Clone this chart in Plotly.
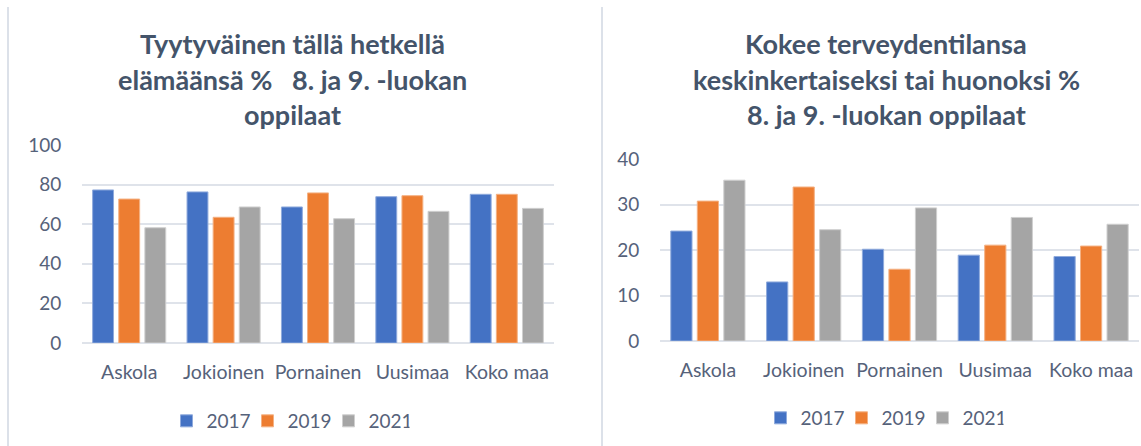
import plotly.graph_objects as go

categories = ["Askola", "Jokioinen", "Pornainen", "Uusimaa", "Koko maa"]
years = ["2017", "2019", "2021"]

# Left chart: Tyytyväinen tällä hetkellä elämäänsä %
left_2017 = [77.3, 76.3, 68.7, 73.9, 75.1]
left_2019 = [72.7, 63.5, 75.8, 74.4, 75.1]
left_2021 = [58.2, 68.7, 62.8, 66.5, 68.0]

# Right chart: Kokee terveydentilansa keskinkertaiseksi tai huonoksi %
right_2017 = [24.2, 13.0, 20.2, 18.9, 18.6]
right_2019 = [30.8, 33.9, 15.8, 21.1, 20.9]
right_2021 = [35.4, 24.5, 29.3, 27.2, 25.7]

left_title = ["Tyytyväinen tällä hetkellä",
              "elämäänsä %\u00a0\u00a0\u00a08. ja 9. -luokan",
              "oppilaat"]
right_title = ["Kokee terveydentilansa",
               "keskinkertaiseksi tai huonoksi %",
               "8. ja 9. -luokan oppilaat"]

W, H = 1141, 446
FONT = "Lato"
TXT = "#56627A"
TITLE_C = "#44546A"
GRID = "#DFE3EA"
fills = ["#4472C4", "#ED7D31", "#A5A5A5"]
edges = ["#8FAADC", "#F4B183", "#CFCFCF"]

def px_x(x):
    return x / W

def px_y(y):
    return (H - y) / H

fig = go.Figure()

left_vals = [left_2017, left_2019, left_2021]
right_vals = [right_2017, right_2019, right_2021]

for i, yr in enumerate(years):
    fig.add_trace(go.Bar(
        x=categories, y=left_vals[i], name=yr,
        marker=dict(color=fills[i], line=dict(color=edges[i], width=1)),
        xaxis="x", yaxis="y", legend="legend",
    ))
for i, yr in enumerate(years):
    fig.add_trace(go.Bar(
        x=categories, y=right_vals[i], name=yr,
        marker=dict(color=fills[i], line=dict(color=edges[i], width=1)),
        xaxis="x2", yaxis="y2", legend="legend2",
    ))

axis_common_x = dict(
    showgrid=False, zeroline=False, showline=False,
    ticks="outside", ticklen=12, tickcolor="rgba(0,0,0,0)",
    tickfont=dict(family=FONT, size=19.5, color=TXT),
    fixedrange=True,
)
axis_common_y = dict(
    showgrid=True, gridcolor=GRID, gridwidth=2,
    zeroline=True, zerolinecolor=GRID, zerolinewidth=2,
    showline=False,
    ticks="outside", ticklen=16, tickcolor="rgba(0,0,0,0)",
    tickfont=dict(family=FONT, size=19, color=TXT),
    fixedrange=True,
)

legend_common = dict(
    orientation="h", yanchor="middle", xanchor="center",
    font=dict(family=FONT, size=19, color=TXT),
    bgcolor="rgba(0,0,0,0)", itemwidth=30,
    entrywidth=36, entrywidthmode="pixels",
    itemclick=False, itemdoubleclick=False,
)

fig.update_layout(
    width=W, height=H, autosize=False,
    margin=dict(l=0, r=0, t=0, b=0, pad=0, autoexpand=False),
    paper_bgcolor="white", plot_bgcolor="white",
    barmode="group", bargap=0.17, bargroupgap=0.2,
    xaxis=dict(domain=[px_x(82), px_x(554)], anchor="y", **axis_common_x),
    yaxis=dict(domain=[px_y(343), px_y(145)], anchor="x", range=[0, 100],
               tickvals=[0, 20, 40, 60, 80, 100], **axis_common_y),
    xaxis2=dict(domain=[px_x(660), px_x(1139)], anchor="y2", **axis_common_x),
    yaxis2=dict(domain=[px_y(341), px_y(159.3)], anchor="x2", range=[0, 40],
                tickvals=[0, 10, 20, 30, 40], **axis_common_y),
    legend=dict(x=px_x(288), y=px_y(421), **legend_common),
    legend2=dict(x=px_x(882), y=px_y(418), **legend_common),
    showlegend=True,
)

title_ys = [44, 80, 115]
for line, ty in zip(left_title, title_ys):
    fig.add_annotation(text=line, xref="paper", yref="paper",
                       x=px_x(292), y=px_y(ty), xanchor="center", yanchor="middle",
                       showarrow=False,
                       font=dict(family=FONT, size=27, color=TITLE_C, weight="bold"))
for line, ty in zip(right_title, title_ys):
    fig.add_annotation(text=line, xref="paper", yref="paper",
                       x=px_x(886), y=px_y(ty), xanchor="center", yanchor="middle",
                       showarrow=False,
                       font=dict(family=FONT, size=27, color=TITLE_C, weight="bold"))

# Chart frame edges (vertical borders)
for xline in (8, 602):
    fig.add_shape(type="line", xref="paper", yref="paper",
                  x0=px_x(xline), x1=px_x(xline), y0=0, y1=px_y(7),
                  line=dict(color="#DCE1E9", width=2))

fig.write_html("out.html",
               config={"displayModeBar": False},
               post_script="document.body.style.margin='0';document.body.style.overflow='hidden';")
